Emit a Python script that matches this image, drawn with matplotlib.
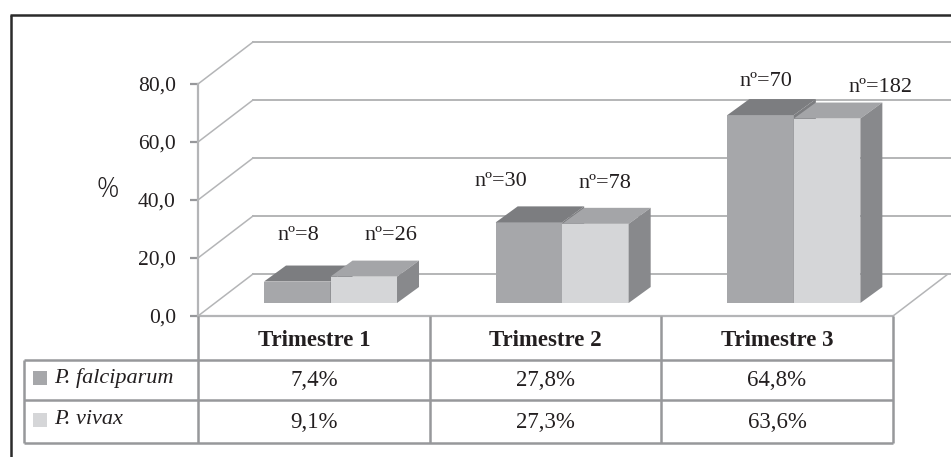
import matplotlib
matplotlib.use('Agg')
import matplotlib.pyplot as plt
from matplotlib.lines import Line2D
from matplotlib.patches import Polygon, Rectangle

# data
categories = ['Trimestre 1', 'Trimestre 2', 'Trimestre 3']
series_names = ['P. falciparum', 'P. vivax']
falciparum = [7.4, 27.8, 64.8]
vivax = [9.1, 27.3, 63.6]
falciparum_n = [8, 30, 70]
vivax_n = [26, 78, 182]
yticks = [0, 20, 40, 60, 80]

W, H = 951, 457
SERIF = 'Liberation Serif'
GRID = '#b4b5b7'
TABLE = '#97989b'
INK = '#231f20'

plt.rcParams['font.family'] = SERIF

fig = plt.figure(figsize=(W / 100, H / 100), dpi=100, facecolor='white')


def fx(px):
    return px / W


def fy(py):
    return 1 - py / H


def fig_line(x0, y0, x1, y1, color=TABLE, lw=1.8, z=1):
    fig.add_artist(Line2D([fx(x0), fx(x1)], [fy(y0), fy(y1)], color=color,
                          lw=lw, zorder=z, solid_capstyle='butt'))


def fig_text(px, py, s, **kw):
    kw.setdefault('ha', 'center')
    kw.setdefault('va', 'center')
    kw.setdefault('color', INK)
    fig.text(fx(px), fy(py), s, **kw)


def comma(v):
    return ('%.1f%%' % v).replace('.', ',')


# plot area: floor front edge 198..893 px, 0..80 is 316..84 px
ax = fig.add_axes([fx(198), fy(316), 695 / W, 232 / H])
ax.set_xlim(0, 3)
ax.set_ylim(0, 80)
ax.patch.set_visible(False)
for name in ['top', 'right', 'bottom']:
    ax.spines[name].set_visible(False)
ax.spines['left'].set_color(GRID)
ax.spines['left'].set_linewidth(1.6)
ax.set_xticks([])
ax.set_yticks(yticks)
ax.set_yticklabels(['%d,0' % v for v in yticks], fontsize=15.5, color=INK)
ax.tick_params(axis='y', length=6, width=1.6, color=TABLE, pad=10)

# oblique depth of the walls and of the bars, in data units
DX = 55 / (695 / 3)
DY = 42 / 2.9
BAR_W = 66.5 / (695 / 3)
BAR_BASE = 13 / 2.9
BAR_DX = 22 / (695 / 3)
BAR_DY = 16 / 2.9
BAR_SHIFT = 0.072
XMAX = (951 - 198) / (695 / 3)

# walls
for v in yticks:
    ax.plot([0, DX], [v, v + DY], color=GRID, lw=1.1, clip_on=False, zorder=1)
    ax.plot([DX, XMAX], [v + DY, v + DY], color=GRID, lw=1.4, clip_on=False, zorder=1)
ax.plot([0, 3], [0, 0], color=GRID, lw=1.6, clip_on=False, zorder=1)
ax.plot([3, 3 + DX], [0, DY], color=GRID, lw=1.1, clip_on=False, zorder=1)

# bars
styles = [('#a6a7aa', '#7c7d80', '#7c7d80'), ('#d5d6d8', '#a4a5a8', '#88898c')]
for k, (values, (front, top, side)) in enumerate(zip([falciparum, vivax], styles)):
    for i, v in enumerate(values):
        x0 = i + 0.5 + BAR_SHIFT + (k - 1) * BAR_W
        x1 = x0 + BAR_W
        y1 = BAR_BASE + v
        ax.bar(x0, v, BAR_W, bottom=BAR_BASE, align='edge', color=front, lw=0, zorder=3 + k)
        ax.add_patch(Polygon([(x0, y1), (x1, y1), (x1 + BAR_DX, y1 + BAR_DY), (x0 + BAR_DX, y1 + BAR_DY)],
                             facecolor=top, lw=0, zorder=3 + k))
        ax.add_patch(Polygon([(x1, BAR_BASE), (x1 + BAR_DX, BAR_BASE + BAR_DY), (x1 + BAR_DX, y1 + BAR_DY), (x1, y1)],
                             facecolor=side, lw=0, zorder=3 + k))

# data labels
label_pos = [(298, 235), (391, 236), (501, 181), (605, 183), (766, 81), (880, 87)]
labels = [n for pair in zip(falciparum_n, vivax_n) for n in pair]
for (px, py), n in zip(label_pos, labels):
    fig_text(px, py, 'nº=%d' % n, fontsize=16)

fig_text(108, 190, '%', fontsize=20, family='Open Sans', fontweight='light')

# table under the chart
col_x = [198, 430, 661, 893]
row_y = [360, 400, 443]
for y in row_y:
    fig_line(24, y, 893, y)
for x in col_x:
    fig_line(x, 316, x, 443)
fig_line(24, 360, 24, 443)

for i, cat in enumerate(categories):
    cx = (col_x[i] + col_x[i + 1]) / 2
    fig_text(cx, 341, cat, fontsize=16.5, fontweight='bold')
    fig_text(cx, 380, comma(falciparum[i]), fontsize=16.5)
    fig_text(cx, 423, comma(vivax[i]), fontsize=16.5)

swatches = [('#a6a7aa', 378), ('#d5d6d8', 420)]
for name, (color, py) in zip(series_names, swatches):
    fig.add_artist(Rectangle((fx(33), fy(py + 7)), 14 / W, 14 / H, facecolor=color,
                             lw=0, transform=fig.transFigure))
    fig_text(54, py, name, ha='left', fontsize=16, fontstyle='italic')

# dark frame, open to the right and bottom
fig_line(10, 14.5, W, 14.5, color='#2b2b2b', lw=1.8, z=5)
fig_line(11, 14.5, 11, H, color='#2b2b2b', lw=1.8, z=5)

fig.savefig('out.png', dpi=100, facecolor='white')
